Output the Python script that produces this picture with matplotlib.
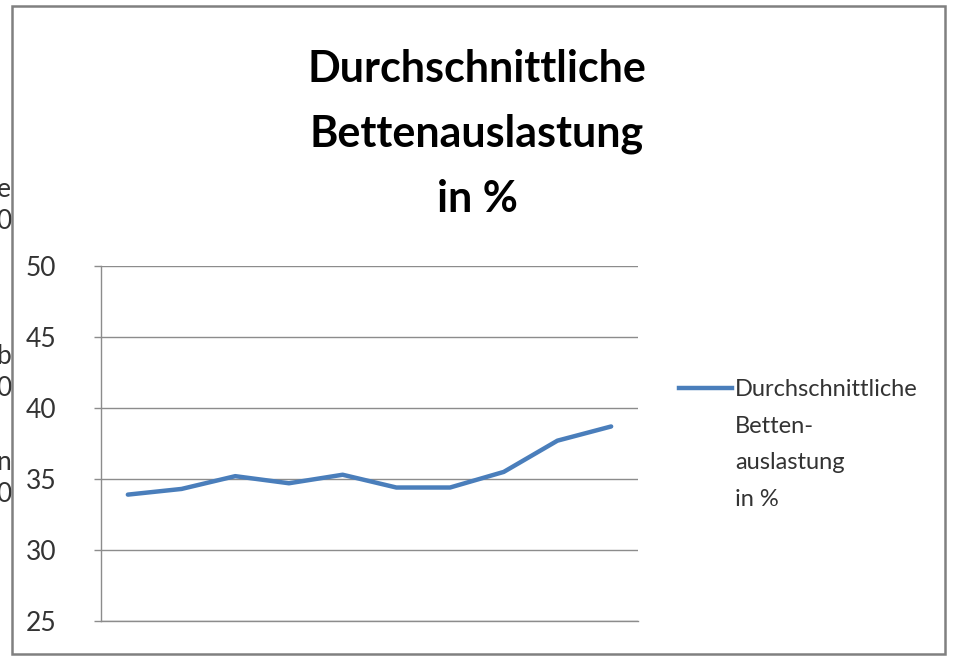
import matplotlib
matplotlib.use("Agg")
import matplotlib.pyplot as plt
from matplotlib.patches import Rectangle
from matplotlib.lines import Line2D

# ---- data ----
categories = list(range(1, 11))
values = [33.9, 34.3, 35.2, 34.7, 35.3, 34.4, 34.4, 35.5, 37.7, 38.7]
y_ticks = [25, 30, 35, 40, 45, 50]
title_text = "Durchschnittliche\nBettenauslastung\nin %"
legend_text = "Durchschnittliche\nBetten-\nauslastung\nin %"

FONT = ["Lato", "DejaVu Sans"]
W, H = 955, 661
fig = plt.figure(figsize=(W / 100, H / 100), dpi=100)
fig.patch.set_facecolor("white")

def fx(px):
    return px / W

def fy(py):
    return 1 - py / H

ax = fig.add_axes([fx(101), fy(621), fx(638) - fx(101), fy(266) - fy(621)])
xs = list(range(len(categories)))
line_color = "#4A7EBB"
ax.plot(xs, values, color=line_color, lw=3.2, solid_joinstyle="round",
        solid_capstyle="round")
ax.set_xlim(-0.5, len(categories) - 0.5)
ax.set_ylim(25, 50)
ax.set_yticks(y_ticks)
ax.set_yticklabels([str(t) for t in y_ticks], fontfamily=FONT, fontsize=19,
                   color="#333333")
ax.set_xticks([])
ax.grid(axis="y", color="#8c8c8c", lw=1.0)
ax.set_axisbelow(True)
for s in ["top", "right"]:
    ax.spines[s].set_visible(False)
ax.spines["left"].set_color("#8c8c8c")
ax.spines["bottom"].set_color("#8c8c8c")
ax.spines["left"].set_linewidth(1.0)
ax.spines["bottom"].set_linewidth(1.0)
ax.tick_params(axis="y", length=5, width=1.0, color="#8c8c8c", pad=27)

# title
fig.text(fx(477), fy(134), title_text, ha="center", va="center",
         fontfamily=FONT, fontweight="bold", fontsize=31, linespacing=1.74,
         color="black")

# legend
fig.add_artist(Line2D([fx(679), fx(732)], [fy(388), fy(388)], color=line_color,
                      lw=3.2, transform=fig.transFigure))
fig.text(fx(735), fy(379), legend_text, ha="left", va="top", fontfamily=FONT,
         fontsize=17, linespacing=1.92, color="#333333")

# cut-off fragments of neighbouring chart on the left
for txt, py in [("e", 190), ("0", 222), ("b", 357), ("0", 389), ("n", 463), ("0", 494)]:
    fig.text(fx(11), fy(py), txt, ha="right", va="center", fontfamily=FONT,
             fontsize=19, color="#333333")

# frame
fig.add_artist(Rectangle((fx(12), fy(654)), fx(945) - fx(12), fy(6) - fy(654),
                         fill=False, edgecolor="#808080", lw=1.8, zorder=10,
                         transform=fig.transFigure))

fig.savefig("out.png", dpi=100, facecolor="white")
